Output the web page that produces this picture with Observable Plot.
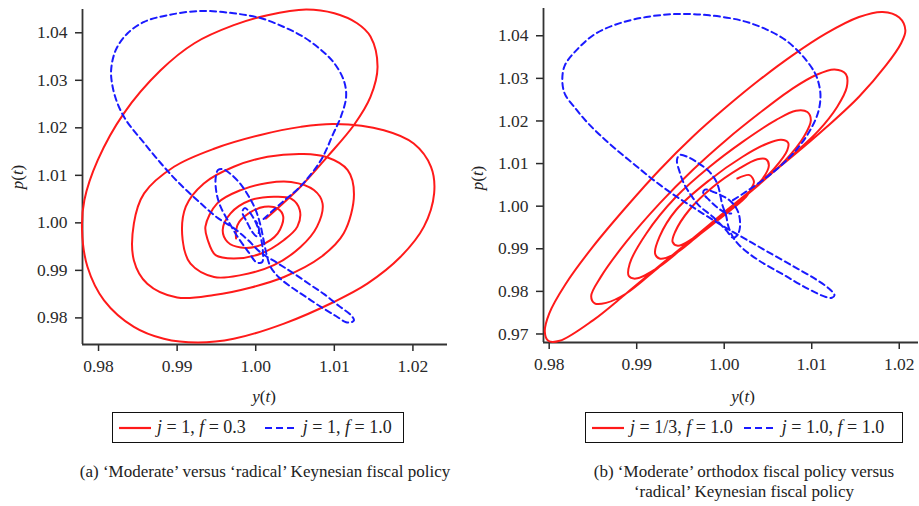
<!DOCTYPE html>
<html><head><meta charset="utf-8">
<script src="https://cdn.jsdelivr.net/npm/d3@7"></script>
<script src="https://cdn.jsdelivr.net/npm/@observablehq/plot@0.6"></script>
<style>
body{margin:0;background:#fff;font-family:"Liberation Serif","DejaVu Serif",serif;color:#222}
#wrap{position:relative;width:919px;height:506px;overflow:hidden}
.panel{position:absolute;top:0}
.lab{position:absolute;font-size:17px;white-space:nowrap;transform:translate(-50%,-50%)}
.lab.rot{transform:translate(-50%,-50%) rotate(-90deg)}
.legend{position:absolute;border:1.5px solid #111;box-sizing:border-box;height:31px;display:flex;align-items:center;font-size:18px;white-space:nowrap;padding-left:5px}
.legend svg{margin-right:5px}
.cap{position:absolute;font-size:17px;text-align:center;transform:translateX(-50%);white-space:nowrap;line-height:20px}
</style></head><body><div id="wrap"></div>
<script>
// Panel (a): j = 1, f = 0.3 (red) and j = 1, f = 1.0 (blue)
const aRedY = [1.0013,1.0057,1.0091,1.0125,1.0146,1.0155,1.0146,1.0129,1.0100,1.0064,1.0015,0.9972,0.9922,0.9879,0.9832,0.9799,0.9782,0.9779,0.9786,0.9807,0.9845,0.9883,0.9926,0.9972,1.0036,1.0100,1.0142,1.0184,1.0214,1.0227,1.0223,1.0201,1.0163,1.0100,1.0057,1.0006,0.9947,0.9896,0.9858,0.9845,0.9845,0.9862,0.9900,0.9947,0.9994,1.0036,1.0083,1.0112,1.0125,1.0117,1.0089,1.0061,1.0015,0.9972,0.9934,0.9911,0.9907,0.9917,0.9947,0.9981,1.0023,1.0057,1.0078,1.0085,1.0074,1.0045,1.0015,0.9981,0.9951,0.9936,0.9939,0.9949,0.9972,1.0006,1.0036,1.0053,1.0056,1.0045,1.0023,0.9994,0.9968,0.9958,0.9964,0.9981,1.0006,1.0028,1.0035,1.0028,1.0011,0.9994,0.9979,0.9975,0.9975];
const aRedP = [1.0009,1.0076,1.0139,1.0206,1.0265,1.0328,1.0392,1.0420,1.0441,1.0449,1.0437,1.0416,1.0378,1.0321,1.0230,1.0132,1.0048,0.9985,0.9907,0.9837,0.9781,0.9756,0.9748,0.9756,0.9788,0.9834,0.9872,0.9928,0.9992,1.0062,1.0118,1.0167,1.0195,1.0208,1.0202,1.0185,1.0156,1.0118,1.0062,0.9999,0.9921,0.9872,0.9843,0.9848,0.9864,0.9886,0.9928,0.9978,1.0060,1.0111,1.0139,1.0145,1.0139,1.0118,1.0083,1.0034,0.9964,0.9914,0.9886,0.9890,0.9911,0.9949,0.9992,1.0041,1.0069,1.0086,1.0084,1.0069,1.0041,0.9992,0.9964,0.9932,0.9925,0.9935,0.9964,0.9992,1.0027,1.0051,1.0055,1.0048,1.0020,0.9985,0.9960,0.9948,0.9953,0.9978,1.0013,1.0030,1.0034,1.0023,1.0002,0.9985,0.9967];
const aBlueY = [1.0010,1.0032,1.0057,1.0083,1.0099,1.0108,1.0115,1.0112,1.0099,1.0083,1.0061,1.0036,1.0006,0.9972,0.9930,0.9888,0.9858,0.9837,0.9822,0.9816,0.9818,0.9824,0.9835,0.9858,0.9879,0.9901,0.9930,0.9952,0.9972,0.9990,1.0006,1.0028,1.0048,1.0070,1.0087,1.0106,1.0121,1.0125,1.0122,1.0115,1.0102,1.0083,1.0064,1.0045,1.0029,1.0019,1.0014,1.0010,1.0006,1.0000,0.9991,0.9981,0.9968,0.9958,0.9952,0.9949,0.9950,0.9955,0.9966,0.9978,0.9991,1.0001,1.0008,1.0009,1.0006,1.0000,0.9992,0.9986,0.9983,0.9989,0.9996,1.0001,1.0004,1.0003,1.0000];
const aBlueP = [1.0008,1.0041,1.0077,1.0132,1.0189,1.0222,1.0265,1.0300,1.0338,1.0364,1.0391,1.0412,1.0431,1.0441,1.0446,1.0437,1.0423,1.0399,1.0364,1.0321,1.0286,1.0252,1.0216,1.0168,1.0126,1.0086,1.0041,1.0010,0.9989,0.9964,0.9938,0.9915,0.9894,0.9869,0.9850,0.9825,0.9806,0.9795,0.9791,0.9791,0.9804,0.9823,0.9844,0.9865,0.9886,0.9907,0.9932,0.9964,0.9995,1.0027,1.0056,1.0081,1.0103,1.0113,1.0111,1.0094,1.0064,1.0035,1.0001,0.9968,0.9938,0.9917,0.9917,0.9943,0.9972,1.0001,1.0023,1.0031,1.0023,1.0001,0.9980,0.9972,0.9980,0.9995,1.0004];

// Panel (b): j = 1/3, f = 1.0 (red) and j = 1.0, f = 1.0 (blue)
const bRedY = [1.0002,1.0021,1.0040,1.0078,1.0116,1.0154,1.0185,1.0202,1.0207,1.0200,1.0181,1.0154,1.0116,1.0078,1.0040,1.0002,0.9964,0.9926,0.9888,0.9850,0.9819,0.9800,0.9795,0.9799,0.9812,0.9850,0.9888,0.9926,0.9964,1.0002,1.0040,1.0078,1.0108,1.0129,1.0140,1.0139,1.0126,1.0105,1.0078,1.0040,1.0002,0.9964,0.9926,0.9888,0.9859,0.9848,0.9852,0.9865,0.9888,0.9926,0.9964,1.0002,1.0040,1.0070,1.0091,1.0099,1.0095,1.0082,1.0059,1.0021,0.9983,0.9945,0.9911,0.9892,0.9891,0.9899,0.9926,0.9964,1.0002,1.0032,1.0057,1.0072,1.0073,1.0065,1.0048,1.0021,0.9983,0.9945,0.9926,0.9921,0.9926,0.9941,0.9971,1.0002,1.0025,1.0044,1.0051,1.0048,1.0038,1.0017,0.9987,0.9960,0.9944,0.9941,0.9947,0.9964,0.9987,1.0010,1.0025,1.0030,1.0034,1.0029,1.0015];
const bRedP = [0.9989,1.0021,1.0053,1.0117,1.0184,1.0257,1.0331,1.0382,1.0413,1.0443,1.0456,1.0444,1.0405,1.0354,1.0296,1.0232,1.0163,1.0085,0.9998,0.9905,0.9818,0.9748,0.9705,0.9684,0.9684,0.9732,0.9795,0.9860,0.9924,0.9989,1.0053,1.0120,1.0178,1.0233,1.0279,1.0310,1.0321,1.0308,1.0276,1.0218,1.0155,1.0085,1.0006,0.9916,0.9834,0.9789,0.9772,0.9773,0.9795,0.9858,0.9922,0.9987,1.0051,1.0108,1.0163,1.0202,1.0221,1.0224,1.0202,1.0151,1.0092,1.0022,0.9936,0.9865,0.9836,0.9830,0.9858,0.9922,0.9985,1.0039,1.0088,1.0131,1.0149,1.0156,1.0146,1.0116,1.0061,0.9991,0.9928,0.9889,0.9877,0.9885,0.9932,0.9983,1.0026,1.0065,1.0095,1.0110,1.0110,1.0088,1.0045,0.9991,0.9940,0.9916,0.9907,0.9924,0.9958,0.9995,1.0022,1.0038,1.0057,1.0073,1.0065];
const bBlueY = [1.0010,1.0025,1.0044,1.0063,1.0082,1.0097,1.0107,1.0110,1.0108,1.0103,1.0089,1.0070,1.0048,1.0021,0.9983,0.9945,0.9911,0.9880,0.9853,0.9833,0.9818,0.9815,0.9818,0.9829,0.9842,0.9857,0.9876,0.9899,0.9922,0.9945,0.9964,0.9983,1.0002,1.0025,1.0048,1.0078,1.0105,1.0120,1.0126,1.0123,1.0116,1.0093,1.0067,1.0040,1.0021,1.0011,1.0005,1.0002,0.9998,0.9992,0.9983,0.9971,0.9960,0.9949,0.9946,0.9949,0.9954,0.9962,0.9971,0.9987,1.0002,1.0010,1.0015,1.0018,1.0017,1.0013,1.0006,0.9996,0.9987,0.9978,0.9976,0.9983,0.9992,1.0002,1.0008];
const bBlueP = [1.0014,1.0034,1.0061,1.0092,1.0131,1.0174,1.0218,1.0257,1.0288,1.0315,1.0354,1.0390,1.0415,1.0435,1.0448,1.0451,1.0444,1.0429,1.0405,1.0370,1.0331,1.0296,1.0263,1.0232,1.0200,1.0169,1.0134,1.0095,1.0057,1.0023,0.9998,0.9973,0.9949,0.9922,0.9895,0.9860,0.9828,0.9806,0.9791,0.9785,0.9787,0.9809,0.9840,0.9872,0.9901,0.9924,0.9951,0.9979,1.0002,1.0053,1.0081,1.0100,1.0114,1.0120,1.0108,1.0081,1.0053,1.0026,1.0002,0.9975,0.9944,0.9926,0.9932,0.9951,0.9979,0.9998,1.0014,1.0026,1.0034,1.0039,1.0031,1.0014,0.9997,0.9984,0.9983];

const xTicks = [0.98, 0.99, 1.00, 1.01, 1.02];
const yTicksA = [0.98, 0.99, 1.00, 1.01, 1.02, 1.03, 1.04];
const yTicksB = [0.97, 0.98, 0.99, 1.00, 1.01, 1.02, 1.03, 1.04];

const RED = "#ff1a1a", BLUE = "#1a1aff";
const toRows = (ys, ps) => ys.map((v, i) => ({y: v, p: ps[i]}));

function makePanel(cfg) {
  const fmt = d3.format(".2f");
  const svg = Plot.plot({
    width: cfg.width, height: 410,
    marginLeft: cfg.ml, marginRight: cfg.mr, marginTop: cfg.mt, marginBottom: cfg.mb,
    x: {domain: cfg.xd, label: null},
    y: {domain: cfg.yd, label: null},
    style: {fontSize: "17.5px", color: "#2a2a2a", background: "transparent", overflow: "visible"},
    marks: [
      Plot.axisX({ticks: xTicks, tickFormat: fmt, tickSize: 7, tickPadding: 8, label: null, strokeWidth: 1.5}),
      Plot.axisY({ticks: cfg.yt, tickFormat: fmt, tickSize: 7, tickPadding: 8, label: null, strokeWidth: 1.5}),
      Plot.ruleX([cfg.xd[0]], {stroke: "#333", strokeWidth: 1.8}),
      Plot.ruleY([cfg.yd[0]], {stroke: "#333", strokeWidth: 1.8}),
      Plot.line(cfg.red, {x: "y", y: "p", stroke: RED, strokeWidth: 2, curve: "catmull-rom"}),
      Plot.line(cfg.blue, {x: "y", y: "p", stroke: BLUE, strokeWidth: 2, strokeDasharray: "6,4", curve: "catmull-rom"})
    ]
  });
  d3.select(svg).selectAll("text")
    .style("font-family", "'Liberation Serif', 'DejaVu Serif', serif")
    .style("font-size", "17.5px");
  return svg;
}

const wrap = document.getElementById("wrap");
function add(el, left) { el.classList.add("panel"); el.style.left = left + "px"; wrap.appendChild(el); }

add(makePanel({width: 460, ml: 82, mr: 13, mt: 9, mb: 66,
  xd: [0.97796, 1.0244], yd: [0.9744, 1.0449], yt: yTicksA,
  red: toRows(aRedY, aRedP), blue: toRows(aBlueY, aBlueP)}), 0);
add(makePanel({width: 459, ml: 83, mr: 1, mt: 8, mb: 68,
  xd: [0.97935, 1.0222], yd: [0.968, 1.0464], yt: yTicksB,
  red: toRows(bRedY, bRedP), blue: toRows(bBlueY, bBlueP)}), 460);

function html(tag, cls, style, inner) {
  const e = document.createElement(tag); e.className = cls; Object.assign(e.style, style); e.innerHTML = inner; wrap.appendChild(e); return e;
}
const sw = (color, dash) => `<svg width="34" height="10"><line x1="1" y1="5" x2="33" y2="5" stroke="${color}" stroke-width="2.2" ${dash ? 'stroke-dasharray="7,4"' : ''}/></svg>`;

// axis labels
html("div", "lab rot", {left: "18px", top: "177px"}, "<i>p</i>(<i>t</i>)");
html("div", "lab", {left: "264px", top: "397px"}, "<i>y</i>(<i>t</i>)");
html("div", "lab rot", {left: "478px", top: "178px"}, "<i>p</i>(<i>t</i>)");
html("div", "lab", {left: "743px", top: "397px"}, "<i>y</i>(<i>t</i>)");

// legends
html("div", "legend", {left: "112px", top: "412px", width: "292px"},
  `${sw(RED, false)}<span><i>j</i> = 1, <i>f</i> = 0.3</span><span style="display:inline-block;width:18px"></span>${sw(BLUE, true)}<span><i>j</i> = 1, <i>f</i> = 1.0</span>`);
html("div", "legend", {left: "585px", top: "412px", width: "318px"},
  `${sw(RED, false)}<span><i>j</i> = 1/3, <i>f</i> = 1.0</span><span style="display:inline-block;width:10px"></span>${sw(BLUE, true)}<span><i>j</i> = 1.0, <i>f</i> = 1.0</span>`);

// captions
html("div", "cap", {left: "265px", top: "462px"}, "(a) ‘Moderate’ versus ‘radical’ Keynesian fiscal policy");
html("div", "cap", {left: "744px", top: "462px"}, "(b) ‘Moderate’ orthodox fiscal policy versus<br>‘radical’ Keynesian fiscal policy");
</script></body></html>
